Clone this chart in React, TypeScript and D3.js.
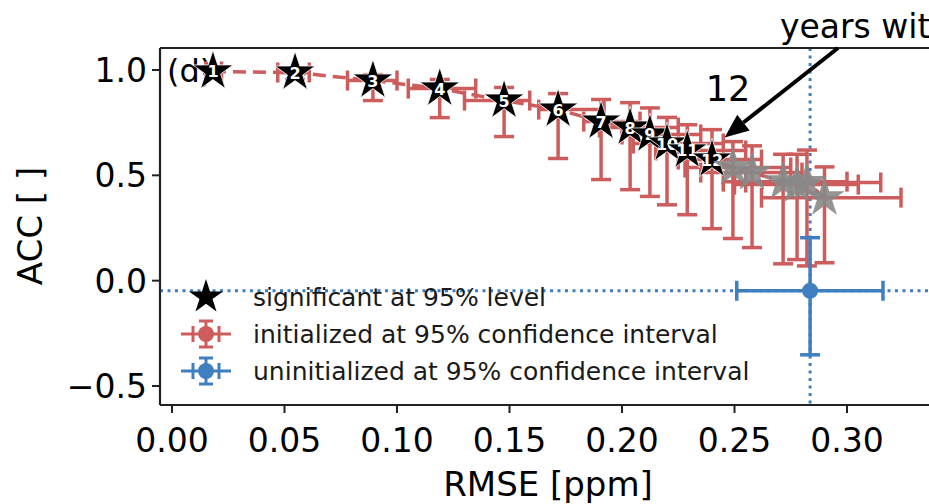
import React from 'react';
import * as d3 from 'd3';

// lead years, first 12 are significant at 95% level
const years = [1, 2, 3, 4, 5, 6, 7, 8, 9, 10, 11, 12, 13, 14, 15, 16, 17, 18];
const significantYears = 12;
const rmse = [0.0182, 0.0547, 0.0893, 0.119, 0.1476, 0.1716, 0.1907, 0.2036, 0.2124, 0.22, 0.229, 0.24, 0.2493, 0.2578, 0.2716, 0.2778, 0.2822, 0.29];
const acc = [0.993, 0.988, 0.95, 0.912, 0.855, 0.812, 0.755, 0.727, 0.694, 0.651, 0.618, 0.575, 0.537, 0.513, 0.47, 0.456, 0.466, 0.394];
const rmseLow = [0.015, 0.047, 0.078, 0.105, 0.13, 0.163, 0.183, 0.19, 0.2, 0.205, 0.215, 0.225, 0.228, 0.235, 0.245, 0.25, 0.255, 0.262];
const rmseHigh = [0.022, 0.061, 0.1, 0.135, 0.159, 0.192, 0.208, 0.225, 0.235, 0.245, 0.255, 0.262, 0.275, 0.28, 0.3, 0.305, 0.315, 0.324];
const accHigh = [1.0, 1.0, 0.978, 0.955, 0.917, 0.888, 0.86, 0.845, 0.82, 0.775, 0.74, 0.717, 0.66, 0.64, 0.6, 0.6, 0.62, 0.54];
const accLow = [0.985, 0.955, 0.855, 0.774, 0.684, 0.58, 0.48, 0.432, 0.4, 0.36, 0.313, 0.247, 0.2, 0.157, 0.08, 0.1, 0.07, 0.085];

// uninitialized run
const uninitRmse = 0.2836;
const uninitAcc = -0.048;
const uninitRmseRange = [0.251, 0.316];
const uninitAccRange = [-0.352, 0.204];

const xTicks = [0, 0.05, 0.1, 0.15, 0.2, 0.25, 0.3];
const yTicks = [-0.5, 0, 0.5, 1.0];
const legendLabels = [
  'significant at 95% level',
  'initialized at 95% confidence interval',
  'uninitialized at 95% confidence interval',
];

const RED = '#cd5c5c';
const BLUE = '#3f7fbf';
const FONT = 'DejaVu Sans, sans-serif';

export default function App() {
  const width = 929, height = 504;
  const left = 160, top = 48, bottom = 405;

  const x = d3.scaleLinear().domain([0, 0.3]).range([172, 847]);
  const y = d3.scaleLinear().domain([-0.5, 1.0]).range([386, 70]);

  const star = d3.symbol(d3.symbolStar, 500)();
  const legendStar = d3.symbol(d3.symbolStar, 360)();
  const line = d3.line<number>().x(i => x(rmse[i])).y(i => y(acc[i]));
  const cap = 10;

  const fmtY = (v: number) => d3.format('.1f')(v).replace('-', '\u2212');
  const fmtX = d3.format('.2f');

  // arrow geometry
  const ax0 = 838, ay0 = top, ax1 = x(0.2456), ay1 = y(0.68);
  const ang = Math.atan2(ay1 - ay0, ax1 - ax0);
  const hl = 24, hw = 10;
  const bx = ax1 - hl * Math.cos(ang), by = ay1 - hl * Math.sin(ang);
  const head = [
    [ax1, ay1],
    [bx + hw * Math.sin(ang), by - hw * Math.cos(ang)],
    [bx - hw * Math.sin(ang), by + hw * Math.cos(ang)],
  ].map(p => p.join(',')).join(' ');

  const legendRows = [297, 334, 371];

  return (
    <svg width={width} height={height} style={{ position: 'absolute', left: 0, top: 0 }} fontFamily={FONT}>
      <rect width={width} height={height} fill="#fff" />
      <defs>
        <clipPath id="plot">
          <rect x={left} y={top} width={width - left} height={bottom - top} />
        </clipPath>
      </defs>

      <text x={167} y={82} fontSize={32} fill="#000">(d)</text>

      <g clipPath="url(#plot)">
        {/* reference lines for the uninitialized run */}
        <line x1={left} x2={width} y1={y(uninitAcc)} y2={y(uninitAcc)} stroke={BLUE} strokeWidth={3} strokeDasharray="3 4.5" />
        <line x1={x(uninitRmse)} x2={x(uninitRmse)} y1={top} y2={bottom} stroke={BLUE} strokeWidth={3} strokeDasharray="3 4.5" />

        {/* initialized error bars */}
        {years.map((yr, i) => (
          <g key={'e' + yr} stroke={RED} strokeWidth={3.5}>
            <line x1={x(rmseLow[i])} x2={x(rmseHigh[i])} y1={y(acc[i])} y2={y(acc[i])} />
            <line x1={x(rmseLow[i])} x2={x(rmseLow[i])} y1={y(acc[i]) - cap} y2={y(acc[i]) + cap} />
            <line x1={x(rmseHigh[i])} x2={x(rmseHigh[i])} y1={y(acc[i]) - cap} y2={y(acc[i]) + cap} />
            <line x1={x(rmse[i])} x2={x(rmse[i])} y1={y(accLow[i])} y2={y(accHigh[i])} />
            <line x1={x(rmse[i]) - cap} x2={x(rmse[i]) + cap} y1={y(accLow[i])} y2={y(accLow[i])} />
            <line x1={x(rmse[i]) - cap} x2={x(rmse[i]) + cap} y1={y(accHigh[i])} y2={y(accHigh[i])} />
          </g>
        ))}
        <path d={line(years.map((_, i) => i)) || ''} fill="none" stroke={RED} strokeWidth={3.5} strokeDasharray="13 7" />

        {/* uninitialized error bar */}
        <g stroke={BLUE} strokeWidth={3.5}>
          <line x1={x(uninitRmseRange[0])} x2={x(uninitRmseRange[1])} y1={y(uninitAcc)} y2={y(uninitAcc)} />
          <line x1={x(uninitRmseRange[0])} x2={x(uninitRmseRange[0])} y1={y(uninitAcc) - cap} y2={y(uninitAcc) + cap} />
          <line x1={x(uninitRmseRange[1])} x2={x(uninitRmseRange[1])} y1={y(uninitAcc) - cap} y2={y(uninitAcc) + cap} />
          <line x1={x(uninitRmse)} x2={x(uninitRmse)} y1={y(uninitAccRange[0])} y2={y(uninitAccRange[1])} />
          <line x1={x(uninitRmse) - cap} x2={x(uninitRmse) + cap} y1={y(uninitAccRange[0])} y2={y(uninitAccRange[0])} />
          <line x1={x(uninitRmse) - cap} x2={x(uninitRmse) + cap} y1={y(uninitAccRange[1])} y2={y(uninitAccRange[1])} />
        </g>
        <circle cx={x(uninitRmse)} cy={y(uninitAcc)} r={8} fill={BLUE} />

        {/* stars */}
        {years.map((yr, i) => (
          <g key={'s' + yr} transform={`translate(${x(rmse[i])},${y(acc[i])})`}>
            <path d={star || ''} fill={i < significantYears ? '#000' : '#888'} stroke={i < significantYears ? '#fff' : 'none'} strokeWidth={0.8} opacity={i < significantYears ? 1 : 0.9} />
            {i < significantYears && (
              <text y={6} textAnchor="middle" fontSize={16} fontWeight="bold" fill="#fff">{yr}</text>
            )}
          </g>
        ))}
      </g>

      {/* spines */}
      <g stroke="#222" strokeWidth={2.2} fill="none">
        <line x1={left} x2={width} y1={top} y2={top} />
        <line x1={left} x2={left} y1={top} y2={bottom} />
        <line x1={left} x2={width} y1={bottom} y2={bottom} />
      </g>

      {/* x axis */}
      {xTicks.map(t => (
        <g key={'x' + t}>
          <line x1={x(t)} x2={x(t)} y1={bottom} y2={bottom + 8} stroke="#222" strokeWidth={2} />
          <text x={x(t)} y={452} textAnchor="middle" fontSize={33} fill="#000">{fmtX(t)}</text>
        </g>
      ))}
      <text x={548} y={496} textAnchor="middle" fontSize={34} fill="#000">RMSE [ppm]</text>

      {/* y axis */}
      {yTicks.map(t => (
        <g key={'y' + t}>
          <line x1={left - 8} x2={left} y1={y(t)} y2={y(t)} stroke="#222" strokeWidth={2} />
          <text x={147} y={y(t)} dy="0.36em" textAnchor="end" fontSize={33} fill="#000">{fmtY(t)}</text>
        </g>
      ))}
      <text transform="translate(42,226) rotate(-90)" textAnchor="middle" fontSize={34} fill="#000">ACC [ ]</text>

      {/* annotation */}
      <text x={780} y={38} fontSize={33} fill="#000">years with</text>
      <text x={728} y={101} textAnchor="middle" fontSize={35} fill="#000">12</text>
      <line x1={ax0} y1={ay0} x2={bx} y2={by} stroke="#000" strokeWidth={4} />
      <polygon points={head} fill="#000" />

      {/* legend */}
      <g>
        <path d={legendStar || ''} transform={`translate(206,${legendRows[0]})`} fill="#000" />
        {[RED, BLUE].map((c, k) => {
          const cy = legendRows[k + 1];
          return (
            <g key={'l' + c} stroke={c} strokeWidth={3}>
              <line x1={181} x2={231} y1={cy} y2={cy} />
              <line x1={193} x2={193} y1={cy - 8} y2={cy + 8} />
              <line x1={219} x2={219} y1={cy - 8} y2={cy + 8} />
              <line x1={206} x2={206} y1={cy - 13} y2={cy + 13} />
              <line x1={199} x2={213} y1={cy - 13} y2={cy - 13} />
              <line x1={199} x2={213} y1={cy + 13} y2={cy + 13} />
              <circle cx={206} cy={cy} r={8} fill={c} stroke="none" />
            </g>
          );
        })}
        {legendLabels.map((l, k) => (
          <text key={l} x={253} y={legendRows[k]} dy="0.36em" fontSize={25} fill="#1a1a1a">{l}</text>
        ))}
      </g>
    </svg>
  );
}
